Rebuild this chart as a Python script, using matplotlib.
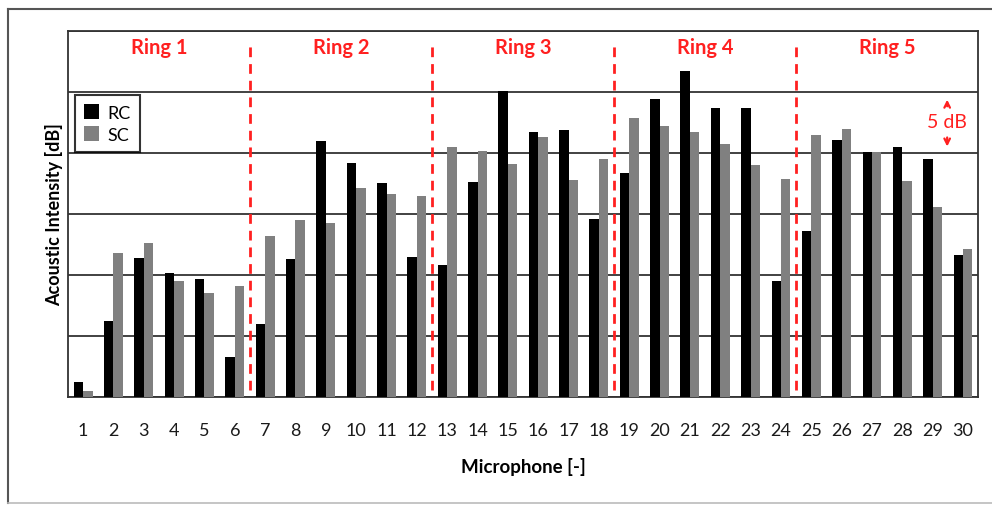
import numpy as np
import matplotlib.pyplot as plt
from matplotlib.lines import Line2D

plt.rcParams['font.family'] = ['Lato', 'DejaVu Sans']

# data (dB above the bottom gridline, 5 dB per gridline)
mics = np.arange(1, 31)
rc = [1.2, 6.2, 11.4, 10.2, 9.7, 3.3, 6.0, 11.3, 21.0, 19.2,
      17.5, 11.5, 10.8, 17.6, 25.1, 21.7, 21.9, 14.6, 18.4, 24.4,
      26.7, 23.7, 23.7, 9.5, 13.6, 21.1, 20.1, 20.5, 19.5, 11.6]
sc = [0.5, 11.8, 12.6, 9.5, 8.5, 9.1, 13.2, 14.5, 14.3, 17.1,
      16.6, 16.5, 20.5, 20.2, 19.1, 21.3, 17.8, 19.5, 22.9, 22.2,
      21.7, 20.7, 19.0, 17.9, 21.5, 22.0, 20.1, 17.7, 15.6, 12.1]
rings = ['Ring 1', 'Ring 2', 'Ring 3', 'Ring 4', 'Ring 5']

fig = plt.figure(figsize=(9.92, 5.06), dpi=100)
ax = fig.add_axes([0.0685, 0.2134, 0.9175, 0.7234])

# outer frame
fig.add_artist(Line2D([0.008, 0.008], [0.004, 0.980], color='#555555', lw=1.5))
fig.add_artist(Line2D([0.008, 1.0], [0.980, 0.980], color='#555555', lw=1.5))
fig.add_artist(Line2D([0.008, 1.0], [0.004, 0.004], color='#bbbbbb', lw=1.2))

w = 0.31
ax.bar(mics - w / 2, rc, width=w, color='black', label='RC', zorder=3)
ax.bar(mics + w / 2, sc, width=w, color='#808080', label='SC', zorder=3)

ax.set_xlim(0.5, 30.5)
ax.set_ylim(0, 30)
ax.set_yticks(np.arange(0, 31, 5))
ax.set_yticklabels([])
ax.tick_params(axis='y', length=0)
ax.grid(axis='y', color='#333333', lw=1.3, zorder=1)
ax.set_xticks(mics)
ax.set_xticklabels([str(m) for m in mics], fontsize=13, color='#1a1a1a')
ax.tick_params(axis='x', length=0, pad=18)
for s in ax.spines.values():
    s.set_color('#333333')
    s.set_linewidth(1.3)

# ring separators and labels
for i in range(4):
    ax.plot([6.5 + 6 * i] * 2, [0.6, 28.9], color='#ff2020', lw=2,
            linestyle=(0, (3.5, 2.5)), zorder=4)
for i, r in enumerate(rings):
    ax.text(3.5 + 6 * i, 28.7, r, color='#ff2020', fontsize=14.5,
            fontweight='bold', ha='center', va='center')

# 5 dB scale marker
ax.text(29.48, 22.6, '5 dB', color='#ff2020', fontsize=14,
        ha='center', va='center')
ax.annotate('', xy=(29.48, 24.6), xytext=(29.48, 23.6),
            arrowprops=dict(arrowstyle='->', color='#ff2020', lw=1.6))
ax.annotate('', xy=(29.48, 20.3), xytext=(29.48, 21.5),
            arrowprops=dict(arrowstyle='->', color='#ff2020', lw=1.6))

ax.legend(loc='upper left', bbox_to_anchor=(0.008, 0.825), fontsize=13,
          frameon=True, fancybox=False, edgecolor='black', handlelength=0.8,
          handleheight=0.9, handletextpad=0.5, borderpad=0.5,
          borderaxespad=0.0, labelspacing=0.3).get_frame().set_linewidth(1.5)

ax.set_xlabel('Microphone [-]', fontsize=13.5, fontweight='bold', labelpad=14)
ax.set_ylabel('Acoustic Intensity [dB]', fontsize=13, fontweight='bold',
              labelpad=0)

fig.savefig('out.png', dpi=100)
